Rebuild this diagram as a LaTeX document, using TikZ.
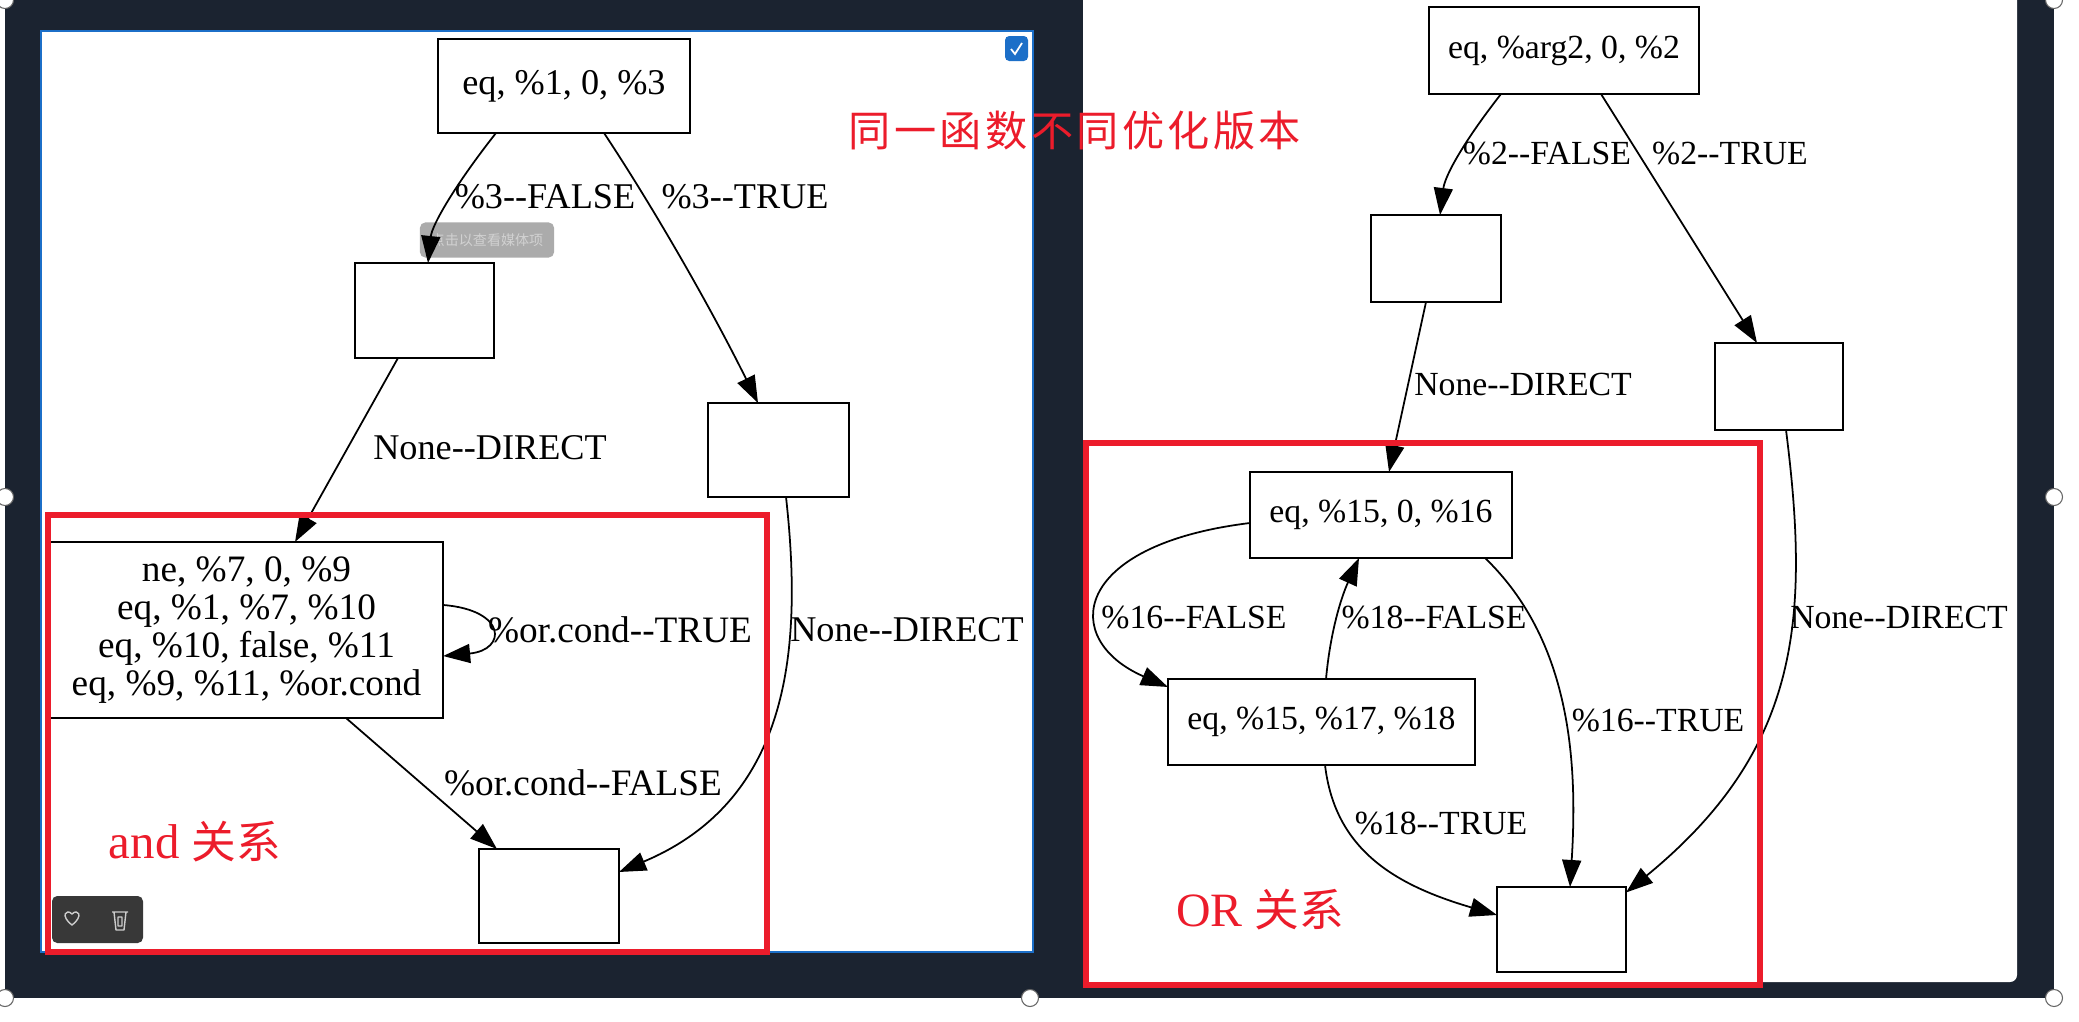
\documentclass[tikz,border=0pt]{standalone}
\usepackage{fontspec}
\setmainfont{Liberation Serif}
\newfontfamily\cjk[LetterSpace=8]{Noto Sans CJK SC}
\newfontfamily\cjkplain{Noto Sans CJK SC}
\usepackage{tikz}
\usetikzlibrary{arrows.meta, shapes.geometric}
\definecolor{frame}{HTML}{1B2330}
\definecolor{mark}{HTML}{EC1C2B}
\definecolor{select}{HTML}{1C6FC8}
\tikzset{
  blk/.style={draw=black, fill=white, line width=0.6pt, inner sep=0pt, outer sep=0pt,
    align=center, font=\fontsize{10.3}{10.8}\selectfont},
  rblk/.style={blk, font=\fontsize{9.6}{10.8}\selectfont},
  lab/.style={inner sep=0pt, font=\fontsize{10.3}{12}\selectfont},
  clab/.style={inner sep=0pt, font=\fontsize{10.6}{12}\selectfont},
  rlab/.style={inner sep=0pt, font=\fontsize{9.6}{12}\selectfont},
  edge/.style={draw=black, line width=0.5pt, -{Triangle[length=2.7mm,width=1.9mm]}},
  redbox/.style={draw=mark, line width=1.45pt},
  note/.style={inner sep=0pt, text=mark},
  handle/.style={circle, draw=black!60, fill=white, line width=0.3pt, inner sep=0pt, minimum size=1.7mm},
  icon/.style={draw=black!20, line width=0.4pt, line join=round}
}
\begin{document}
\begin{tikzpicture}[x=0.01cm, y=-0.01cm]
\useasboundingbox (0,0) rectangle (2079,1021);
\fill[frame] (5,0) rectangle (2054,998);
% panels
\fill[white, draw=select, line width=0.5pt] (41,31) rectangle (1033,952);
\fill[white, rounded corners=2pt] (1083,-8) rectangle (2017,982);
\fill[select, rounded corners=1.2pt] (1005,36) rectangle (1028,61);
\draw[white, line width=0.5pt] (1011,49)--(1015,54)--(1022,43);
% tooltip and toolbar
\node[fill=black!33, rounded corners=1.5pt, minimum width=1.34cm, minimum height=0.35cm, inner sep=0pt,
  text=black!18, font=\cjkplain\fontsize{4}{5}\selectfont] (tip) at (487,240) {点击以查看媒体项};
\fill[black!78, rounded corners=1.5pt] (52,896) rectangle (143,943);
\draw[icon] (72,925) .. controls (60,916) and (66,908) .. (72,914) .. controls (78,908) and (84,916) .. (72,925) -- cycle;
\draw[icon] (112,912)--(128,912) (114,912)--(116,930)--(124,930)--(126,912) (118,917) rectangle (122,926);
% left graph
\node[blk, minimum width=2.52cm, minimum height=0.94cm] (la) at (564,86) {eq, \%1, 0, \%3};
\node[blk, minimum width=1.39cm, minimum height=0.95cm] (lb) at (424.5,310.5) {};
\node[blk, minimum width=1.41cm, minimum height=0.94cm] (lc) at (778.5,450) {};
\node[blk, font=\fontsize{10.6}{10.8}\selectfont, minimum width=3.93cm, minimum height=1.76cm] (ld) at (246.5,630)
  {ne, \%7, 0, \%9\\eq, \%1, \%7, \%10\\eq, \%10, false, \%11\\eq, \%9, \%11, \%or.cond};
\node[blk, minimum width=1.40cm, minimum height=0.94cm] (le) at (549,896) {};
\draw[edge] ([xshift=-0.68cm]la.south) .. controls (455,185) and (432,225) .. ([xshift=0.035cm]lb.north);
\draw[edge] ([xshift=0.40cm]la.south) .. controls (655,210) and (712,310) .. ([xshift=-0.205cm]lc.north);
\draw[edge] ([xshift=-0.265cm]lb.south) -- ([xshift=0.485cm]ld.north);
\draw[edge] ([xshift=0.075cm]lc.south) .. controls (803,650) and (790,800) .. ([yshift=0.24cm]le.east);
\draw[edge] ([yshift=0.25cm]ld.east) .. controls (507,610) and (507,650) .. ([yshift=-0.26cm]ld.east);
\draw[edge] ([xshift=0.995cm]ld.south) -- ([xshift=-0.52cm]le.north);
\node[lab] (lfalse) at (545,197) {\%3-{}-FALSE};
\node[lab] (ltrue) at (745,197) {\%3-{}-TRUE};
\node[lab] (ldirecta) at (490,448) {None-{}-DIRECT};
\node[clab] (lcondt) at (620,630) {\%or.cond-{}-TRUE};
\node[lab] (ldirectb) at (907,630) {None-{}-DIRECT};
\node[clab] (lcondf) at (583,783) {\%or.cond-{}-FALSE};
% right graph
\node[rblk, minimum width=2.70cm, minimum height=0.87cm] (ra) at (1564,50.5) {eq, \%arg2, 0, \%2};
\node[rblk, minimum width=1.30cm, minimum height=0.87cm] (rb) at (1436,258.5) {};
\node[rblk, minimum width=1.28cm, minimum height=0.87cm] (rc) at (1779,386.5) {};
\node[rblk, minimum width=2.62cm, minimum height=0.86cm] (rd) at (1381,515) {eq, \%15, 0, \%16};
\node[rblk, minimum width=3.07cm, minimum height=0.86cm] (re) at (1321.5,722) {eq, \%15, \%17, \%18};
\node[rblk, minimum width=1.29cm, minimum height=0.85cm] (rf) at (1561.5,929.5) {};
\draw[edge] ([xshift=-0.63cm]ra.south) .. controls (1465,140) and (1445,175) .. ([xshift=0.04cm]rb.north);
\draw[edge] ([xshift=0.37cm]ra.south) .. controls (1655,180) and (1705,260) .. ([xshift=-0.22cm]rc.north);
\draw[edge] ([xshift=-0.10cm]rb.south) -- ([xshift=0.08cm]rd.north);
\draw[edge] ([xshift=0.07cm]rc.south) .. controls (1810,620) and (1800,750) .. ([yshift=0.37cm]rf.east);
\draw[edge] ([yshift=-0.08cm]rd.west) .. controls (1070,545) and (1060,640) .. ([yshift=0.35cm]re.west);
\draw[edge] ([xshift=0.045cm]re.north) .. controls (1330,635) and (1340,600) .. ([xshift=-0.22cm]rd.south);
\draw[edge] ([xshift=1.04cm]rd.south) .. controls (1570,640) and (1578,760) .. ([xshift=0.085cm]rf.north);
\draw[edge] ([xshift=0.035cm]re.south) .. controls (1335,850) and (1395,885) .. ([yshift=0.145cm]rf.west);
\node[rlab] (rfalse) at (1547,153) {\%2-{}-FALSE};
\node[rlab] (rtrue) at (1730,153) {\%2-{}-TRUE};
\node[rlab] (rdirecta) at (1523,384) {None-{}-DIRECT};
\node[rlab] (rsixf) at (1194,617) {\%16-{}-FALSE};
\node[rlab] (reightf) at (1434,617) {\%18-{}-FALSE};
\node[rlab] (rdirectb) at (1899,617) {None-{}-DIRECT};
\node[rlab] (rsixt) at (1658,720) {\%16-{}-TRUE};
\node[rlab] (reightt) at (1441,823) {\%18-{}-TRUE};
% red marks
\draw[redbox] (48,515) rectangle (767,952);
\draw[redbox] (1086,443) rectangle (1760,985);
\node[note, font=\cjk\fontsize{12}{14}\selectfont] (title) at (1075,131) {同一函数不同优化版本};
\node[note, font=\fontsize{13.9}{15}\selectfont] (andnote) at (195,842) {and {\cjkplain\fontsize{12.7}{14}\selectfont 关系}};
\node[note, font=\fontsize{13.6}{15}\selectfont] (ornote) at (1260,910) {OR {\cjkplain\fontsize{12.7}{14}\selectfont 关系}};
% handles
\foreach \hx/\hy/\hname in {5/0/a, 2054/0/b, 5/497/c, 2054/497/d, 5/998/e, 1030/998/f, 2054/998/g}
  \node[handle] (h\hname) at (\hx,\hy) {};
\end{tikzpicture}
\end{document}
